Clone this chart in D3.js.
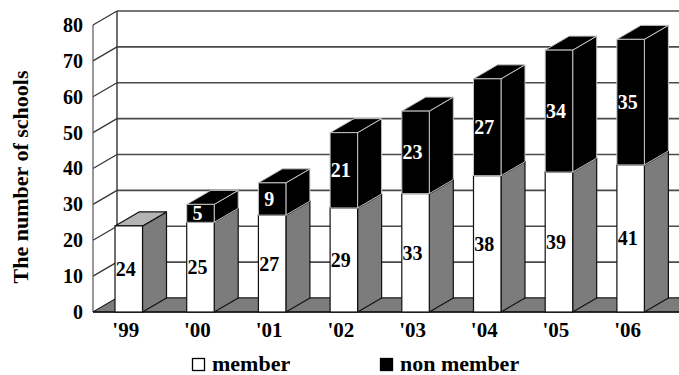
<!DOCTYPE html>
<html>
<head>
<meta charset="utf-8">
<script src="https://cdn.jsdelivr.net/npm/d3@7"></script>
<style>
  html, body { margin: 0; padding: 0; background: #fff; }
  svg { display: block; }
  svg text { font-family: "Liberation Serif", "DejaVu Serif", Times, serif !important; font-weight: bold; }
</style>
</head>
<body>
<script>
const categories = ["'99", "'00", "'01", "'02", "'03", "'04", "'05", "'06"];
const member = [24, 25, 27, 29, 33, 38, 39, 41];
const nonMember = [0, 5, 9, 21, 23, 27, 34, 35];
const yTicks = [0, 10, 20, 30, 40, 50, 60, 70, 80];
const legendLabels = ["member", "non member"];
const yTitle = "The number of schools";

const FONT = "Liberation Serif, DejaVu Serif, serif";
const W = 679, H = 375;
const DX = 24, DY = -14;
const svg = d3.select("body").append("svg").attr("width", W).attr("height", H)
  .attr("font-family", FONT).attr("font-weight", "bold");

const y = d3.scaleLinear().domain([0, 80]).range([312, 25]);
const x = d3.scaleBand().domain(categories).range([93, 666.4])
  .paddingInner(0.6165).paddingOuter(0.307);
const x0 = 93, x1 = 760;

const line = d3.line();

// left wall
svg.append("path")
  .attr("d", line([[x0, y(80)], [x0 + DX, y(80) + DY], [x0 + DX, y(0) + DY], [x0, y(0)]]) + "Z")
  .attr("fill", "#fff");

// back wall gridlines
yTicks.forEach(t => {
  svg.append("line")
    .attr("x1", x0 + DX).attr("x2", x1)
    .attr("y1", y(t) + DY).attr("y2", y(t) + DY)
    .attr("stroke", "#4a4a4a").attr("stroke-width", 1.6);
  svg.append("line")
    .attr("x1", x0).attr("x2", x0 + DX)
    .attr("y1", y(t)).attr("y2", y(t) + DY)
    .attr("stroke", "#333").attr("stroke-width", 1.2);
});
svg.append("line").attr("x1", x0 + DX).attr("x2", x0 + DX)
  .attr("y1", y(80) + DY).attr("y2", y(0) + DY)
  .attr("stroke", "#333").attr("stroke-width", 1.4);
svg.append("line").attr("x1", x0).attr("x2", x0)
  .attr("y1", y(80)).attr("y2", y(0))
  .attr("stroke", "#555").attr("stroke-width", 1.2);

// floor
svg.append("path")
  .attr("d", line([[x0, y(0)], [x1, y(0)], [x1 + DX, y(0) + DY], [x0 + DX, y(0) + DY]]) + "Z")
  .attr("fill", "#7c7c7c").attr("stroke", "#222").attr("stroke-width", 1);
svg.append("line").attr("x1", x0).attr("x2", x1)
  .attr("y1", y(0)).attr("y2", y(0)).attr("stroke", "#111").attr("stroke-width", 1.5);

function segment(g, xf, w, v0, v1, front, side, top, stroke, sw) {
  g.append("path")
    .attr("d", line([[xf + w, y(v0)], [xf + w + DX, y(v0) + DY], [xf + w + DX, y(v1) + DY], [xf + w, y(v1)]]) + "Z")
    .attr("fill", side).attr("stroke", stroke).attr("stroke-width", sw).attr("stroke-linejoin", "round");
  g.append("path")
    .attr("d", line([[xf, y(v1)], [xf + w, y(v1)], [xf + w + DX, y(v1) + DY], [xf + DX, y(v1) + DY]]) + "Z")
    .attr("fill", top).attr("stroke", stroke).attr("stroke-width", sw).attr("stroke-linejoin", "round");
  g.append("rect")
    .attr("x", xf).attr("y", y(v1)).attr("width", w).attr("height", y(v0) - y(v1))
    .attr("fill", front).attr("stroke", stroke).attr("stroke-width", sw);
}

const bw = x.bandwidth();
categories.forEach((c, i) => {
  const g = svg.append("g");
  const xf = x(c);
  const m = member[i], n = nonMember[i];
  segment(g, xf, bw, 0, m, "#fff", "#7c7c7c", "#b4b4b4", "#111", 1.2);
  if (n > 0) segment(g, xf, bw, m, m + n, "#000", "#000", "#000", "#c4c4c4", 1);
});

// value labels
categories.forEach((c, i) => {
  const cx = x(c) + bw / 2 - 3;
  const m = member[i], n = nonMember[i];
  svg.append("text").attr("x", cx).attr("y", y(m / 2)).attr("dy", "0.35em")
    .attr("text-anchor", "middle").attr("font-size", 20).attr("fill", "#000").text(m);
  if (n > 0) {
    svg.append("text").attr("x", cx).attr("y", y(m + n / 2)).attr("dy", "0.35em")
      .attr("text-anchor", "middle").attr("font-size", 20).attr("fill", "#fff").text(n);
  }
});

// y axis
const yAxis = svg.append("g").attr("transform", `translate(${x0},0)`)
  .call(d3.axisLeft(y).tickValues(yTicks).tickSize(0).tickPadding(10))
  .attr("font-family", FONT).attr("font-size", 20);
yAxis.select(".domain").remove();
yAxis.selectAll("text").attr("fill", "#000");

// x axis
const xAxis = svg.append("g").attr("transform", `translate(0,${y(0)})`)
  .call(d3.axisBottom(x).tickSize(0).tickPadding(10))
  .attr("font-family", FONT).attr("font-size", 21);
xAxis.select(".domain").remove();
xAxis.selectAll("text").attr("fill", "#000").attr("dx", -3);

// y title
svg.append("text").attr("transform", "translate(28,177) rotate(-90)")
  .attr("text-anchor", "middle").attr("font-size", 22).attr("fill", "#000").text(yTitle);

// legend
const legX = [192, 380];
const legFill = ["#fff", "#000"];
legendLabels.forEach((lab, i) => {
  svg.append("rect").attr("x", legX[i] + 0.5).attr("y", 358.5).attr("width", 12).attr("height", 12)
    .attr("fill", legFill[i]).attr("stroke", "#000").attr("stroke-width", 1.3);
  svg.append("text").attr("x", legX[i] + 20).attr("y", 371).attr("font-size", 22)
    .attr("fill", "#000").text(lab);
});
</script>
</body>
</html>
